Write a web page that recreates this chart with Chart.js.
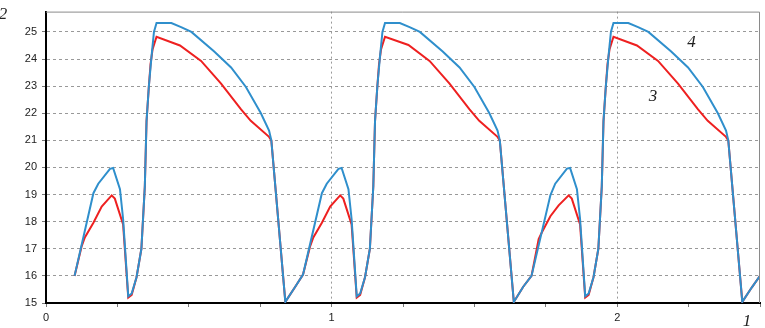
<!DOCTYPE html>
<html>
<head>
<meta charset="utf-8">
<script src="https://cdn.jsdelivr.net/npm/chart.js@4/dist/chart.umd.min.js"></script>
<style>
  html, body { margin: 0; padding: 0; background: #fff; }
  #wrap { width: 765px; height: 328px; }
</style>
</head>
<body>
<div id="wrap"><canvas id="c" width="765" height="328"></canvas></div>
<script>
// curve 4 (blue)
const curve4X = [
  0.100, 0.166, 0.183, 0.224, 0.235, 0.259, 0.270, 0.288, 0.300, 0.317, 0.334, 0.346, 0.352, 0.360,
  0.369, 0.378, 0.387, 0.439, 0.473, 0.509, 0.589, 0.648, 0.700, 0.752, 0.781, 0.789, 0.838, 0.871,
  0.900, 0.966, 0.983, 1.024, 1.035, 1.059, 1.070, 1.088, 1.100, 1.117, 1.134, 1.146, 1.152, 1.160,
  1.169, 1.178, 1.187, 1.239, 1.273, 1.309, 1.389, 1.448, 1.500, 1.552, 1.581, 1.589, 1.638, 1.671,
  1.700, 1.766, 1.783, 1.824, 1.835, 1.859, 1.870, 1.888, 1.900, 1.917, 1.934, 1.946, 1.952, 1.960,
  1.969, 1.978, 1.987, 2.039, 2.073, 2.109, 2.189, 2.248, 2.300, 2.352, 2.381, 2.389, 2.438, 2.471,
  2.500
];
const curve4Y = [
  16.0, 19.05, 19.4, 19.95, 19.98, 19.2, 18.1, 15.25, 15.35, 15.95, 17.0, 19.3, 21.7, 22.97,
  24.04, 25.0, 25.33, 25.33, 25.18, 25.0, 24.28, 23.69, 22.97, 22.01, 21.36, 21.0, 15.04, 15.57,
  16.05, 19.05, 19.4, 19.95, 19.98, 19.2, 18.1, 15.25, 15.35, 15.95, 17.0, 19.3, 21.7, 22.97,
  24.04, 25.0, 25.33, 25.33, 25.18, 25.0, 24.28, 23.69, 22.97, 22.01, 21.36, 21.0, 15.04, 15.6,
  16.0, 18.97, 19.4, 19.96, 19.98, 19.2, 18.1, 15.25, 15.35, 15.95, 17.0, 19.3, 21.7, 22.97,
  24.04, 25.0, 25.33, 25.33, 25.18, 25.0, 24.28, 23.69, 22.97, 22.01, 21.36, 21.0, 15.04, 15.57,
  16.0
];

// curve 3 (red)
const curve3X = [
  0.100, 0.125, 0.136, 0.166, 0.195, 0.230, 0.241, 0.259, 0.270, 0.288, 0.300, 0.317, 0.334, 0.346,
  0.352, 0.360, 0.366, 0.373, 0.387, 0.469, 0.543, 0.613, 0.683, 0.717, 0.781, 0.789, 0.838, 0.871,
  0.900, 0.925, 0.936, 0.966, 0.995, 1.030, 1.041, 1.059, 1.070, 1.088, 1.100, 1.117, 1.134, 1.146,
  1.152, 1.160, 1.166, 1.173, 1.187, 1.269, 1.343, 1.413, 1.483, 1.517, 1.581, 1.589, 1.638, 1.671,
  1.700, 1.725, 1.736, 1.766, 1.795, 1.830, 1.841, 1.859, 1.870, 1.888, 1.900, 1.917, 1.934, 1.946,
  1.952, 1.960, 1.966, 1.973, 1.987, 2.069, 2.143, 2.213, 2.283, 2.317, 2.381, 2.389, 2.438, 2.471,
  2.500
];
const curve3Y = [
  16.0, 17.1, 17.42, 17.96, 18.56, 18.97, 18.85, 18.26, 17.9, 15.2, 15.3, 15.95, 17.0, 19.3,
  21.7, 22.97, 23.8, 24.35, 24.82, 24.5, 23.93, 23.09, 22.14, 21.72, 21.13, 21.0, 15.04, 15.57,
  16.05, 17.1, 17.42, 17.96, 18.56, 18.97, 18.85, 18.26, 17.9, 15.2, 15.3, 15.95, 17.0, 19.3,
  21.7, 22.97, 23.8, 24.35, 24.82, 24.52, 23.93, 23.09, 22.14, 21.72, 21.13, 21.0, 15.04, 15.6,
  16.0, 17.36, 17.6, 18.2, 18.6, 18.97, 18.85, 18.26, 17.9, 15.2, 15.3, 15.95, 17.0, 19.3,
  21.7, 22.97, 23.8, 24.35, 24.82, 24.5, 23.93, 23.09, 22.14, 21.72, 21.13, 21.0, 15.04, 15.57,
  16.0
];

const xLabels = [0, 1, 2];
const yLabels = [15, 16, 17, 18, 19, 20, 21, 22, 23, 24, 25];
// curve numbers placed in data coordinates
const curveNames = [
  { text: "4", x: 2.26, y: 24.62 },
  { text: "3", x: 2.125, y: 22.6 }
];
const axisNames = { x: "1", y: "2" };

const toPoints = (xs, ys) => xs.map((x, i) => ({ x: x, y: ys[i] }));

const labelsPlugin = {
  id: "labels",
  afterDraw(chart) {
    const ctx = chart.ctx;
    const area = chart.chartArea;
    const xs = chart.scales.x, ys = chart.scales.y;
    ctx.save();
    // top and right frame
    ctx.strokeStyle = "#8a8a8a";
    ctx.lineWidth = 1;
    ctx.beginPath();
    ctx.moveTo(area.left, area.top + 0.5);
    ctx.lineTo(area.right - 0.5, area.top + 0.5);
    ctx.lineTo(area.right - 0.5, area.bottom);
    ctx.stroke();

    ctx.fillStyle = "#222";
    ctx.font = "italic 17px 'Liberation Serif'";
    ctx.textAlign = "center";
    ctx.textBaseline = "middle";
    curveNames.forEach(n => {
      ctx.fillText(n.text, xs.getPixelForValue(n.x), ys.getPixelForValue(n.y));
    });
    ctx.fillText(axisNames.y, 3, 15);
    ctx.fillText(axisNames.x, area.right - 13, area.bottom + 19);
    ctx.restore();
  }
};

new Chart(document.getElementById("c"), {
  type: "line",
  data: {
    datasets: [
      {
        data: toPoints(curve4X, curve4Y),
        borderColor: "#2f8fcc",
        borderWidth: 2,
        pointRadius: 0,
        tension: 0,
        fill: false
      },
      {
        data: toPoints(curve3X, curve3Y),
        borderColor: "#ee2020",
        borderWidth: 2,
        pointRadius: 0,
        tension: 0,
        fill: false
      }
    ]
  },
  options: {
    responsive: false,
    animation: false,
    layout: { padding: { top: 2, right: 5, left: 0, bottom: 0 } },
    plugins: { legend: { display: false }, tooltip: { enabled: false } },
    scales: {
      x: {
        type: "linear",
        min: 0,
        max: 2.5,
        afterFit: s => { s.height = 25; },
        ticks: {
          stepSize: 0.25,
          autoSkip: false,
          maxRotation: 0,
          padding: 4,
          color: "#222",
          font: { family: "'Liberation Sans'", size: 11 },
          callback: v => (xLabels.includes(v) ? String(v) : "")
        },
        grid: {
          color: c => (c.tick && xLabels.includes(c.tick.value) && c.tick.value !== 0 ? "#999" : "rgba(0,0,0,0)"),
          lineWidth: 1,
          tickColor: "#777",
          tickLength: 4,
          tickBorderDash: [],
          drawOnChartArea: true
        },
        border: { color: "#000", width: 2, dash: [2, 3] }
      },
      y: {
        min: 15,
        max: 25.75,
        afterFit: s => { s.width = 46; },
        ticks: {
          stepSize: 1,
          includeBounds: false,
          padding: 5,
          color: "#222",
          font: { family: "'Liberation Sans'", size: 11 },
          callback: v => (yLabels.includes(v) ? String(v) : "")
        },
        grid: {
          color: c => (c.tick && c.tick.value !== 15 ? "#999" : "rgba(0,0,0,0)"),
          lineWidth: 1,
          tickColor: "#777",
          tickLength: 4,
          tickBorderDash: []
        },
        border: { color: "#000", width: 2, dash: [3, 3] }
      }
    }
  },
  plugins: [labelsPlugin]
});
</script>
</body>
</html>
